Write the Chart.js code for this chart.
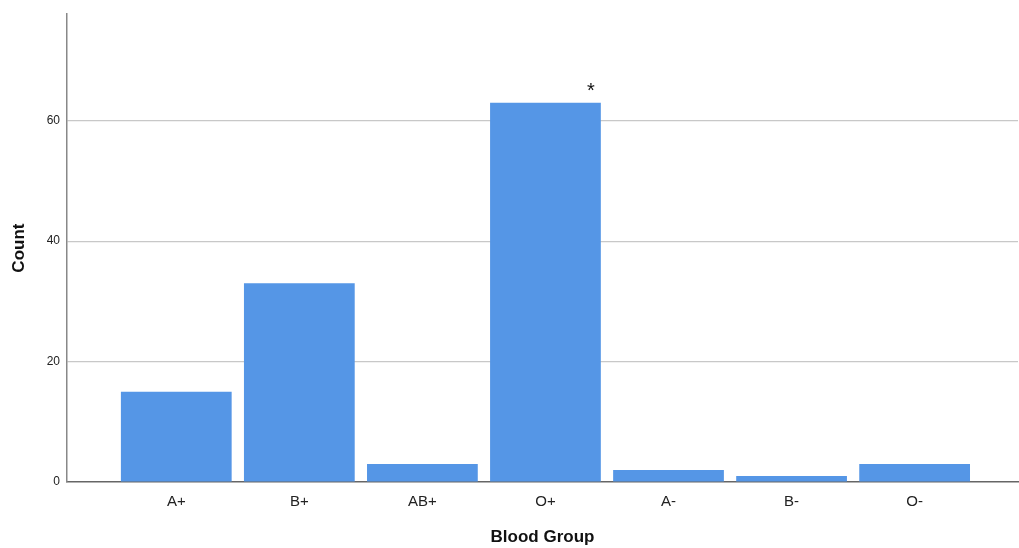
<!DOCTYPE html>
<html>
<head>
<meta charset="utf-8">
<script src="https://cdn.jsdelivr.net/npm/chart.js@4"></script>
<style>
  html, body { margin: 0; padding: 0; background: #fff; }
  #wrap { width: 1019px; height: 548px; position: relative; }
</style>
</head>
<body>
<div id="wrap"><canvas id="chart"></canvas></div>
<script>
// ==================== 数据 ====================
const bloodGroups = ["A+", "B+", "AB+", "O+", "A-", "B-", "O-"];
const counts = [15, 33, 3, 63, 2, 1, 3];
const marks = ["", "", "", "*", "", "", ""];
const yTicks = [0, 20, 40, 60];

const FONT = "'Liberation Sans', Arial, sans-serif";
const BAR_COLOR = "#5596e6";

// 在柱子右上角写星号
const markPlugin = {
  id: "marks",
  afterDatasetsDraw(chart) {
    const ctx = chart.ctx;
    const meta = chart.getDatasetMeta(0);
    ctx.save();
    ctx.fillStyle = "#111";
    ctx.font = "20px " + FONT;
    ctx.textAlign = "center";
    ctx.textBaseline = "middle";
    meta.data.forEach((bar, i) => {
      if (!marks[i]) return;
      ctx.fillText(marks[i], bar.x + bar.width / 2 - 10, bar.y - 11);
    });
    ctx.restore();
  },
};

new Chart(document.getElementById("chart"), {
  type: "bar",
  data: {
    datasets: [{
      data: counts.map((c, i) => ({ x: i, y: c })),
      backgroundColor: BAR_COLOR,
      borderWidth: 0,
      categoryPercentage: 1,
      barPercentage: 0.9,
    }],
  },
  options: {
    responsive: true,
    maintainAspectRatio: false,
    animation: false,
    layout: { padding: { top: 14, right: 1, left: 0, bottom: 0 } },
    plugins: { legend: { display: false }, tooltip: { enabled: false } },
    scales: {
      x: {
        type: "linear",
        offset: false,
        min: -0.888,
        max: 6.84,
        afterBuildTicks: (s) => { s.ticks = bloodGroups.map((_, i) => ({ value: i })); },
        afterFit: (s) => { s.height = 66; },
        ticks: {
          autoSkip: false,
          maxRotation: 0,
          padding: 11,
          color: "#222",
          font: { family: FONT, size: 15 },
          callback: (v) => bloodGroups[v] ?? "",
        },
        grid: { display: false, drawTicks: false, offset: false },
        border: { display: true, color: "#666", width: 1.5 },
        title: {
          display: true,
          text: "Blood Group",
          color: "#111",
          font: { family: FONT, size: 17, weight: "bold" },
          padding: { top: 13, bottom: 0 },
        },
      },
      y: {
        min: 0,
        max: 77.7,
        afterBuildTicks: (s) => { s.ticks = yTicks.map((v) => ({ value: v })); },
        afterFit: (s) => { s.width = 67; },
        ticks: {
          padding: 7,
          color: "#222",
          font: { family: FONT, size: 12 },
        },
        grid: {
          drawTicks: false,
          color: (c) => (c.tick && c.tick.value === 0 ? "rgba(0,0,0,0)" : "#c8c8c8"),
          lineWidth: 1.2,
        },
        border: { display: true, color: "#888", width: 1.5 },
        title: {
          display: true,
          text: "Count",
          color: "#111",
          font: { family: FONT, size: 17, weight: "bold" },
          padding: { top: 9, bottom: 14 },
        },
      },
    },
  },
  plugins: [markPlugin],
});
</script>
</body>
</html>
